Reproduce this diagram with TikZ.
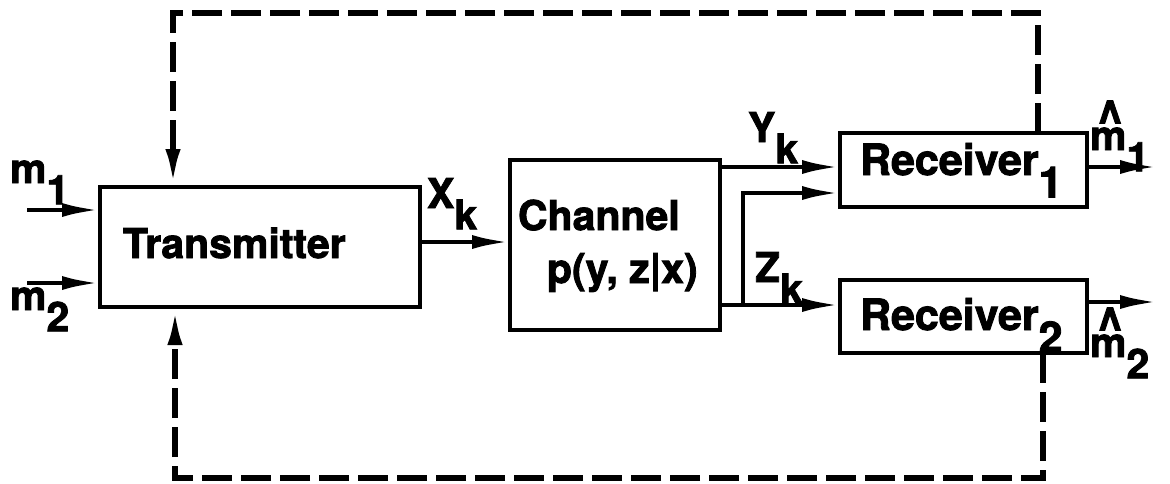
\documentclass[tikz,border=0pt]{standalone}
\usepackage{fontspec}
\setmainfont{TeX Gyre Heros}[BoldFeatures={FakeBold=2}]
\usetikzlibrary{arrows.meta,calc}
\newcommand{\lowsub}[1]{\raisebox{-0.52em}{#1}}
\newcommand{\hatm}{\makebox[0pt][l]{\hspace{0.17em}\raisebox{0.3em}{\scalebox{1.1}[1.3]{\textasciicircum}}}m}
\begin{document}
\begin{tikzpicture}[x=0.5pt,y=-0.5pt,
  box/.style={draw,line width=2.3pt,rectangle,inner sep=0pt,outer sep=0pt},
  txt/.style={inner sep=0pt,outer sep=0pt,font=\fontsize{20.5}{24}\selectfont\bfseries,anchor=base west},
  bigtxt/.style={txt,font=\fontsize{21.5}{25}\selectfont\bfseries},
  sig/.style={line width=2.3pt,-{Latex[length=19pt,width=7pt]}},
  fb/.style={line width=3pt,dash pattern=on 15pt off 4.5pt},
  fbarrow/.style={fb,-{Latex[length=19pt,width=7.5pt]}}]
\useasboundingbox (0,0) rectangle (1170,483);
% boxes
\node[box,minimum width=160pt,minimum height=60pt] (tx) at (260,247) {};
\node[box,minimum width=105pt,minimum height=85pt] (ch) at (615,245) {};
\node[box,minimum width=123.5pt,minimum height=37pt] (r1) at (963.5,170) {};
\node[box,minimum width=123.5pt,minimum height=36.5pt] (r2) at (963.5,316.5) {};
% box texts
\node[txt] (txl) at (123,258) {Transmitter};
\node[txt] (chl1) at (518,230) {Channel};
\node[txt] (chl2) at (547,283) {p(y, z|x)};
\node[bigtxt] (r1l) at (860,175) {Receiver\lowsub{1}};
\node[bigtxt] (r2l) at (860,330) {Receiver\lowsub{2}};
% signal labels
\node[txt] (m1l) at (10,183) {m\lowsub{1}};
\node[txt] (m2l) at (10,310) {m\lowsub{2}};
\node[txt] (xkl) at (427,208) {X\lowsub{k}};
\node[txt] (ykl) at (748,142) {Y\lowsub{k}};
\node[txt] (zkl) at (755,282) {Z\lowsub{k}};
\node[txt] (mh1l) at (1090,150) {\hatm\lowsub{1}};
\node[txt] (mh2l) at (1090,357) {\hatm\lowsub{2}};
% coordinates
\coordinate (m1s) at (27,210);
\coordinate (m2s) at (27,283);
\coordinate (xky) at (0,242);
\coordinate (yky) at (0,167);
\coordinate (r1in2) at (840,193);
\coordinate (split) at (743,305);
\coordinate (o1) at (1158,167);
\coordinate (o2) at (1158,302);
\coordinate (fbTL) at (173,13);
\coordinate (fbTR) at (1038,13);
\coordinate (fbBL) at (175,478);
\coordinate (fbBR) at (1043,478);
% signals
\draw[sig] (m1s) -- (m1s -| tx.west);
\draw[sig] (m2s) -- (m2s -| tx.west);
\draw[sig] (tx.east |- xky) -- (ch.west |- xky);
\draw[sig] (ch.east |- yky) -- (r1.west |- yky);
\draw[sig] (split) |- (r1in2);
\draw[sig] (ch.east |- split) -- (r2.west |- split);
\draw[sig] (r1.east |- o1) -- (o1);
\draw[sig] (r2.east |- o2) -- (o2);
% feedback
\draw[fbarrow] (fbTR |- r1.north) -- (fbTR) -- (fbTL) -- (fbTL |- tx.north);
\draw[fbarrow] (fbBR |- r2.south) -- (fbBR) -- (fbBL) -- (fbBL |- tx.south);
\end{tikzpicture}
\end{document}
